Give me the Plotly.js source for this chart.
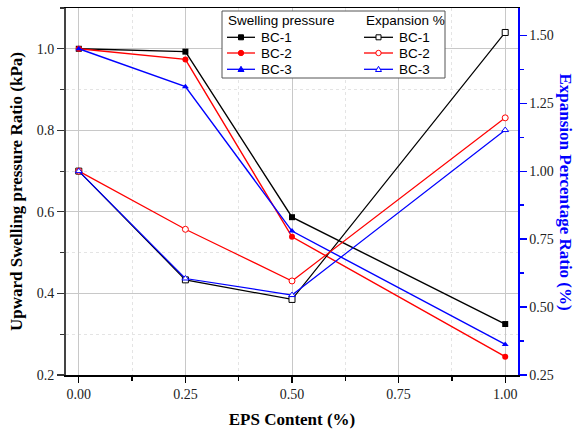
<!DOCTYPE html>
<html>
<head>
<meta charset="utf-8">
<script src="https://cdn.plot.ly/plotly-3.0.1.min.js"></script>
<style>html,body{margin:0;padding:0;background:#fff;}#chart{width:579px;height:432px;}</style>
</head>
<body>
<div id="chart"></div>
<script>
// EPS content (%)
const epsContent = [0, 0.25, 0.5, 1.0];
// Upward swelling pressure ratio (left axis)
const swellBC1 = [1.0, 0.993, 0.587, 0.325];
const swellBC2 = [1.0, 0.974, 0.539, 0.245];
const swellBC3 = [1.0, 0.907, 0.553, 0.275];
// Expansion percentage ratio (right axis)
const expBC1 = [1.0, 0.600, 0.528, 1.51];
const expBC2 = [1.0, 0.786, 0.596, 1.196];
const expBC3 = [1.0, 0.605, 0.544, 1.151];
const seriesNames = ['BC-1', 'BC-2', 'BC-3'];
const seriesColors = ['#000000', '#ff0000', '#0000ff'];
const filledSymbols = ['square', 'circle', 'triangle-up'];
const legendHeaders = ['Swelling pressure', 'Expansion %'];

const swell = [swellBC1, swellBC2, swellBC3];
const expn = [expBC1, expBC2, expBC3];

const traces = [];
swell.forEach((ys, i) => {
  traces.push({
    x: epsContent, y: ys, name: seriesNames[i] + ' swelling pressure', type: 'scatter', mode: 'lines+markers',
    line: {color: seriesColors[i], width: 1.4},
    marker: {symbol: filledSymbols[i], size: 6, color: seriesColors[i]},
    yaxis: 'y', showlegend: false
  });
});
expn.forEach((ys, i) => {
  traces.push({
    x: epsContent, y: ys, name: seriesNames[i] + ' expansion %', type: 'scatter', mode: 'lines+markers',
    line: {color: seriesColors[i], width: 1.2},
    marker: {symbol: filledSymbols[i], size: 6, color: '#ffffff', line: {color: seriesColors[i], width: 1}},
    yaxis: 'y2', showlegend: false
  });
});

const serif = 'Liberation Serif, Times New Roman, serif';
const sans = 'Liberation Sans, Arial, sans-serif';

// plot-area geometry (pixels) used to place the hand-built legend
const M = {l: 66, r: 61, t: 8, b: 57};
const W = 579, H = 432;
const pw = W - M.l - M.r, ph = H - M.t - M.b;
const px2x = p => (p - M.l) / pw;
const px2y = p => 1 - (p - M.t) / ph;

const shapes = [{
  type: 'rect', xref: 'paper', yref: 'paper',
  x0: px2x(222), x1: px2x(445), y0: px2y(78), y1: px2y(11),
  line: {color: '#555555', width: 1}, fillcolor: '#ffffff', layer: 'above'
}];
const annotations = [{
  text: '<b>Expansion Percentage Ratio (%)</b>', xref: 'paper', yref: 'paper',
  x: px2x(565), y: 0.5, xanchor: 'center', yanchor: 'middle', textangle: 90, showarrow: false,
  font: {family: serif, size: 17, color: '#0000ff'}
}];

const colLineX = [[227, 255], [364, 393]];
const colTextX = [259, 397];
const rowY = [37.3, 53, 69.3];
const headerY = 21;
function markerShape(sym, cx, cy, color, filled) {
  const base = {xref: 'paper', yref: 'paper', xsizemode: 'pixel', ysizemode: 'pixel',
    xanchor: px2x(cx), yanchor: px2y(cy), layer: 'above',
    line: {color: color, width: 1}, fillcolor: filled ? color : '#ffffff'};
  if (sym === 'square') return Object.assign(base, {type: 'rect', x0: -2.5, x1: 2.5, y0: -2.5, y1: 2.5});
  if (sym === 'circle') return Object.assign(base, {type: 'circle', x0: -2.7, x1: 2.7, y0: -2.7, y1: 2.7});
  return Object.assign(base, {type: 'path', path: 'M -3 -2.2 L 3 -2.2 L 0 3 Z'});
}
[0, 1].forEach(c => {
  annotations.push({
    text: legendHeaders[c], xref: 'paper', yref: 'paper', x: px2x(c === 0 ? 226 : 364), y: px2y(headerY),
    xanchor: 'left', yanchor: 'middle', showarrow: false,
    font: {family: sans, size: 13.5, color: '#000'}
  });
  seriesNames.forEach((nm, i) => {
    const y = rowY[i];
    shapes.push({type: 'line', xref: 'paper', yref: 'paper', layer: 'above',
      x0: px2x(colLineX[c][0]), x1: px2x(colLineX[c][1]), y0: px2y(y), y1: px2y(y),
      line: {color: seriesColors[i], width: 1.3}});
    shapes.push(markerShape(filledSymbols[i], (colLineX[c][0] + colLineX[c][1]) / 2, y, seriesColors[i], c === 0));
    annotations.push({
      text: nm, xref: 'paper', yref: 'paper', x: px2x(colTextX[c]), y: px2y(y),
      xanchor: 'left', yanchor: 'middle', showarrow: false,
      font: {family: sans, size: 13.5, color: '#000'}
    });
  });
});

const layout = {
  width: W, height: H,
  margin: M,
  paper_bgcolor: '#ffffff', plot_bgcolor: '#ffffff',
  showlegend: false,
  xaxis: {
    range: [-0.03, 1.03], tickvals: [0, 0.25, 0.5, 0.75, 1.0], tickformat: '.2f',
    showline: true, linecolor: '#000000', linewidth: 1.5, mirror: true,
    ticks: 'outside', ticklen: 6, tickwidth: 1.2, tickcolor: '#000',
    showgrid: true, gridcolor: '#c8c8c8', gridwidth: 1, zeroline: false,
    minor: {dtick: 0.125, tick0: 0, ticks: 'outside', ticklen: 4, tickcolor: '#000', showgrid: true, gridcolor: '#e4e4e4', griddash: 'dot'},
    tickfont: {family: serif, size: 14, color: '#222'},
    title: {text: '<b>EPS Content (%)</b>', font: {family: serif, size: 17, color: '#000'}, standoff: 12}
  },
  yaxis: {
    range: [0.2, 1.1], tickvals: [0.2, 0.4, 0.6, 0.8, 1.0], tickformat: '.1f',
    showline: true, linecolor: '#444444', linewidth: 2,
    ticks: 'outside', ticklen: 7, tickwidth: 1.2, tickcolor: '#333',
    showgrid: true, gridcolor: '#c8c8c8', gridwidth: 1, zeroline: false,
    minor: {dtick: 0.1, tick0: 0.2, ticks: 'outside', ticklen: 4, tickcolor: '#333', showgrid: true, gridcolor: '#e4e4e4', griddash: 'dot'},
    tickfont: {family: serif, size: 14, color: '#222'},
    title: {text: '<b>Upward Swelling pressure Ratio (kPa)</b>', font: {family: serif, size: 17, color: '#000'}, standoff: 10}
  },
  yaxis2: {
    overlaying: 'y', side: 'right', anchor: 'x',
    range: [0.25, 1.6], tickvals: [0.25, 0.5, 0.75, 1.0, 1.25, 1.5], tickformat: '.2f',
    showline: true, linecolor: '#0000ff', linewidth: 1.5,
    ticks: 'outside', ticklen: 7, tickwidth: 1.2, tickcolor: '#0000ff',
    showgrid: false, zeroline: false,
    minor: {dtick: 0.125, tick0: 0.25, ticks: 'outside', ticklen: 4, tickcolor: '#0000ff', showgrid: false},
    tickfont: {family: serif, size: 14, color: '#222'}
  },
  shapes: shapes,
  annotations: annotations
};

Plotly.newPlot('chart', traces, layout, {staticPlot: true, displayModeBar: false});
</script>
</body>
</html>
